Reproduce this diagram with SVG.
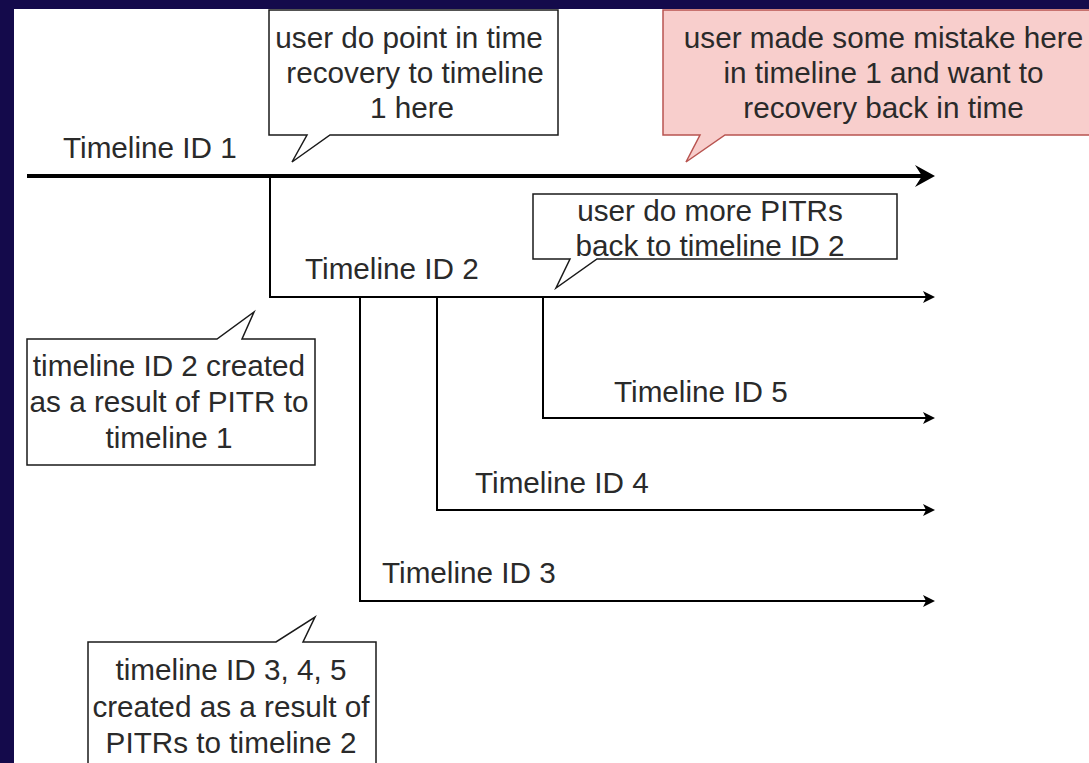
<svg xmlns="http://www.w3.org/2000/svg" width="1089" height="763" viewBox="0 0 1089 763" font-family="'Liberation Sans', Arimo, Arial, Helvetica, sans-serif">
  <defs>
    <style>
      text { font-family: 'Liberation Sans', Arimo, Arial, Helvetica, sans-serif; }
      .lbl { font-size: 29.7px; fill: #2a2a2a; }
      .mid { text-anchor: middle; }
      .callout { fill: #ffffff; stroke: #1a1a1a; stroke-width: 1.5; }
      .callout-red { fill: #f8cecc; stroke: #b85450; stroke-width: 1.5; }
      .edge { fill: none; stroke: #000000; stroke-width: 2; }
      .edge-main { fill: none; stroke: #000000; stroke-width: 4; }
    </style>
    <marker id="arrow" markerUnits="userSpaceOnUse" markerWidth="12" markerHeight="12" refX="3" refY="6" orient="auto">
      <path d="M0,0 L12,6 L0,12 L3,6 Z" fill="#000000"/>
    </marker>
    <marker id="arrow-big" markerUnits="userSpaceOnUse" markerWidth="20" markerHeight="22" refX="7" refY="11" orient="auto">
      <path d="M0,0 L20,11 L0,22 L7,11 Z" fill="#000000"/>
    </marker>
  </defs>

  <rect x="0" y="0" width="1089" height="763" fill="#140a4b"/>
  <rect x="14" y="9" width="1075" height="754" fill="#ffffff"/>

  <g id="connectors">
    <path class="edge-main" d="M27,176 H922" marker-end="url(#arrow-big)"/>
    <path class="edge" d="M270,176 V297 H926" marker-end="url(#arrow)"/>
    <path class="edge" d="M360,297 V601 H926" marker-end="url(#arrow)"/>
    <path class="edge" d="M437,297 V510 H926" marker-end="url(#arrow)"/>
    <path class="edge" d="M543,297 V418 H926" marker-end="url(#arrow)"/>
  </g>

  <g id="label-tl1"><text class="lbl" x="63" y="158">Timeline ID 1</text></g>
  <g id="label-tl2"><text class="lbl" x="305" y="279">Timeline ID 2</text></g>
  <g id="label-tl3"><text class="lbl" x="382" y="583">Timeline ID 3</text></g>
  <g id="label-tl4"><text class="lbl" x="475" y="493">Timeline ID 4</text></g>
  <g id="label-tl5"><text class="lbl" x="614" y="402">Timeline ID 5</text></g>

  <g id="callout-pitr1">
    <path class="callout" d="M269,10 H558 V135 H330 L292,162 L307,135 H269 Z"/>
    <text class="lbl mid" x="409" y="48">user do point in time</text>
    <text class="lbl mid" x="415" y="83">recovery to timeline</text>
    <text class="lbl mid" x="412" y="118">1 here</text>
  </g>

  <g id="callout-mistake">
    <path class="callout-red" d="M663,10 H1104 V135 H725 L686,162 L700,135 H663 Z"/>
    <text class="lbl mid" x="883.5" y="48">user made some mistake here</text>
    <text class="lbl mid" x="883.5" y="83">in timeline 1 and want to</text>
    <text class="lbl mid" x="883.5" y="118">recovery back in time</text>
  </g>

  <g id="callout-more-pitrs">
    <path class="callout" d="M533,194 H897 V259 H597 L556,288 L570,259 H533 Z"/>
    <text class="lbl mid" x="710" y="221">user do more PITRs</text>
    <text class="lbl mid" x="710" y="256">back to timeline ID 2</text>
  </g>

  <g id="callout-tl2-created">
    <path class="callout" d="M27,339 H217 L254,312 L242,339 H315 V465 H27 Z"/>
    <text class="lbl mid" x="169" y="376">timeline ID 2 created</text>
    <text class="lbl mid" x="169" y="412">as a result of PITR to</text>
    <text class="lbl mid" x="169" y="448">timeline 1</text>
  </g>

  <g id="callout-tl345-created">
    <path class="callout" d="M88,642 H276 L315,617 L303,642 H376 V775 H88 Z"/>
    <text class="lbl mid" x="231" y="680">timeline ID 3, 4, 5</text>
    <text class="lbl mid" x="231" y="717">created as a result of</text>
    <text class="lbl mid" x="231" y="753">PITRs to timeline 2</text>
  </g>
</svg>
